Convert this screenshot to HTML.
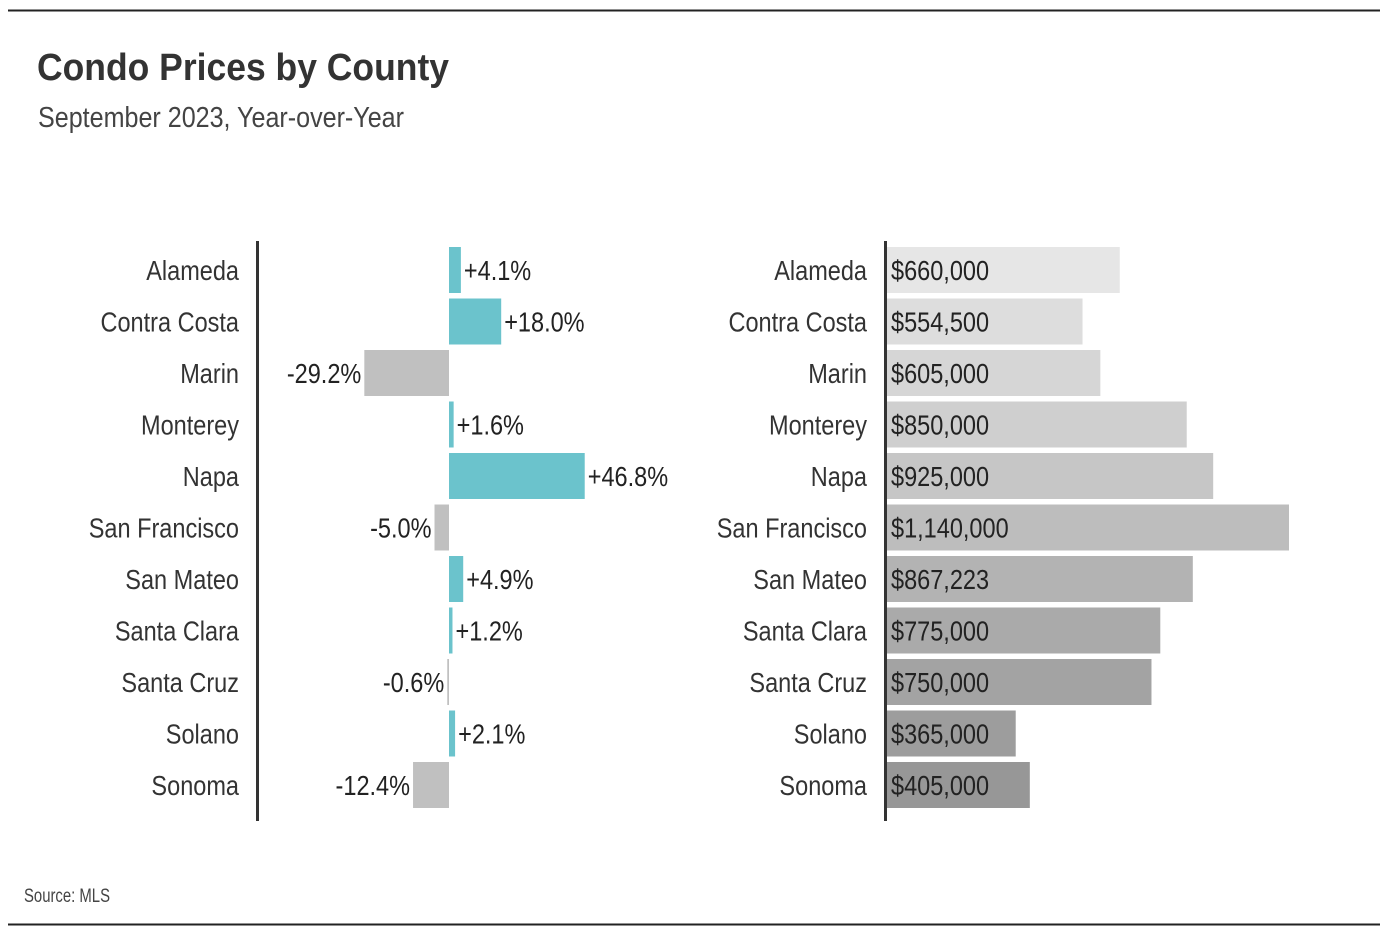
<!DOCTYPE html>
<html><head><meta charset="utf-8"><style>
body{margin:0;background:#fff;width:1388px;height:940px;overflow:hidden;font-family:"Liberation Sans Narrow","Liberation Sans",sans-serif;color:#333}
svg text{font-family:"Liberation Sans",sans-serif}
</style></head><body>
<svg width="1388" height="940">
<line x1="8" y1="10.5" x2="1380" y2="10.5" stroke="#222" stroke-width="2"/>
<line x1="8" y1="924.5" x2="1380" y2="924.5" stroke="#222" stroke-width="2"/>
<text x="37" y="80" font-size="38" font-weight="bold" fill="#333" textLength="412" lengthAdjust="spacingAndGlyphs">Condo Prices by County</text>
<text x="38" y="127" font-size="29" fill="#444" textLength="366" lengthAdjust="spacingAndGlyphs">September 2023, Year-over-Year</text>
<text x="24" y="902" font-size="19" fill="#444" textLength="86" lengthAdjust="spacingAndGlyphs">Source: MLS</text>
<line x1="257.5" y1="241" x2="257.5" y2="821" stroke="#333" stroke-width="3"/>
<line x1="885.5" y1="241" x2="885.5" y2="821" stroke="#333" stroke-width="3"/>
<g id="marks"></g>
</svg>
<script>
const counties=["Alameda","Contra Costa","Marin","Monterey","Napa","San Francisco","San Mateo","Santa Clara","Santa Cruz","Solano","Sonoma"];
const changes=[4.1,18.0,-29.2,1.6,46.8,-5.0,4.9,1.2,-0.6,2.1,-12.4];
const prices=[660000,554500,605000,850000,925000,1140000,867223,775000,750000,365000,405000];
const priceLabels=["$660,000","$554,500","$605,000","$850,000","$925,000","$1,140,000","$867,223","$775,000","$750,000","$365,000","$405,000"];
const greys=["#e6e6e6","#dddddd","#d6d6d6","#cfcfcf","#c6c6c6","#bdbdbd","#b3b3b3","#aaaaaa","#a3a3a3","#9d9d9d","#979797"];
const NS="http://www.w3.org/2000/svg";
const g=document.getElementById("marks");
const SX=0.84;
const y=i=>247+i*51.5;
const xc=v=>449+v*2.9;
const xp=v=>887+v*402/1140000;
function mk(t,a){const e=document.createElementNS(NS,t);for(const k in a)e.setAttribute(k,a[k]);g.appendChild(e);return e;}
function txt(x,yy,s,anchor){const e=mk("text",{x:0,y:0,"font-size":28,fill:"#333","text-anchor":anchor,transform:`translate(${x},${yy}) scale(${SX},1)`});e.textContent=s;return e;}
counties.forEach((c,i)=>{
  const cy=y(i)+23;
  let t=txt(239,cy+10,c,"end");
  
  
  t=txt(867,cy+10,c,"end");
  
  
  const v=changes[i];const x0=Math.min(xc(0),xc(v)),w=Math.abs(xc(v)-xc(0));
  let r=mk("rect",{x:x0,y:y(i),width:Math.max(w,1),height:46,fill:v>=0?"#6bc3cc":"#c0c0c0"});
  
  
  const lbl=(v>=0?"+":"")+v.toFixed(1)+"%";
  t=txt(v>=0?xc(v)+3:xc(v)-3,cy+10,lbl,v>=0?"start":"end");
  t.setAttribute('fill','#222');
  
  
  r=mk("rect",{x:887,y:y(i),width:xp(prices[i])-887,height:46,fill:greys[i]});
  
  
  t=txt(891,cy+10,priceLabels[i],"start");
  t.setAttribute('fill','#222');
  
  
});
</script>
</body></html>
